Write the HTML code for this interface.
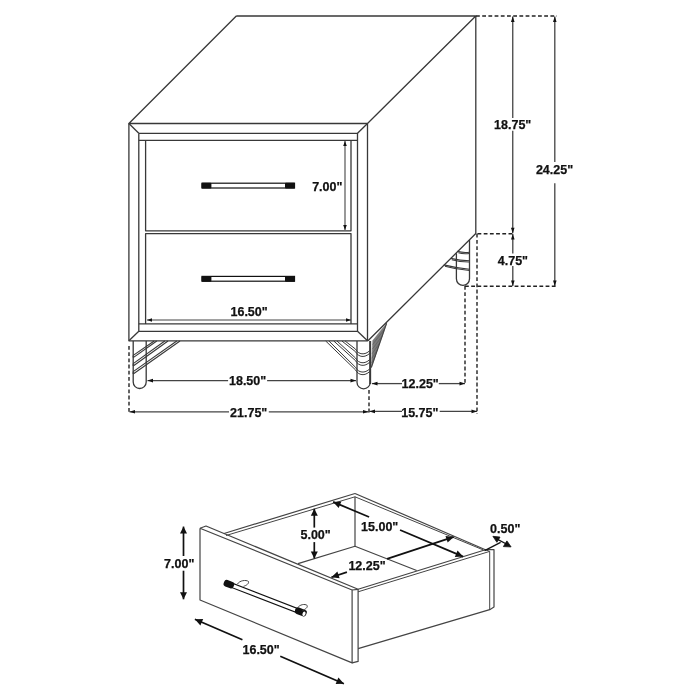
<!DOCTYPE html>
<html><head><meta charset="utf-8">
<style>
html,body{margin:0;padding:0;background:#fff;}
svg{display:block;will-change:transform;}
text{font-family:"Liberation Sans",sans-serif;font-weight:bold;fill:#111;stroke:#111;stroke-width:0.25px;}
</style></head>
<body>
<svg width="700" height="700" viewBox="0 0 700 700">
<path d="M236.30,16.00 L475.80,16.00 L367.50,123.50 L128.90,123.50 L236.30,16.00" fill="none" stroke="#383838" stroke-width="1.3" stroke-linejoin="round" />
<path d="M128.90,123.50 L128.90,340.80 L367.50,340.80 L367.50,123.50" fill="none" stroke="#383838" stroke-width="1.3" stroke-linejoin="round" />
<path d="M138.80,133.30 L357.50,133.30 L357.50,331.30 L138.80,331.30 L138.80,133.30" fill="none" stroke="#383838" stroke-width="1.3" stroke-linejoin="round" />
<path d="M128.90,123.50 L138.80,133.30" fill="none" stroke="#383838" stroke-width="1.3" stroke-linejoin="round" />
<path d="M367.50,123.50 L357.50,133.30" fill="none" stroke="#383838" stroke-width="1.3" stroke-linejoin="round" />
<path d="M128.90,340.80 L138.80,331.30" fill="none" stroke="#383838" stroke-width="1.3" stroke-linejoin="round" />
<path d="M367.50,340.80 L357.50,331.30" fill="none" stroke="#383838" stroke-width="1.3" stroke-linejoin="round" />
<path d="M138.80,140.40 L357.50,140.40" fill="none" stroke="#383838" stroke-width="1.3" stroke-linejoin="round" />
<path d="M138.80,323.90 L357.50,323.90" fill="none" stroke="#383838" stroke-width="1.3" stroke-linejoin="round" />
<path d="M145.60,140.40 L145.60,230.80 L351.00,230.80 L351.00,140.40" fill="none" stroke="#383838" stroke-width="1.3" stroke-linejoin="round" />
<path d="M145.60,323.90 L145.60,233.60 L351.00,233.60 L351.00,323.90" fill="none" stroke="#383838" stroke-width="1.3" stroke-linejoin="round" />
<path d="M475.80,16.00 L475.80,233.50 L368.00,340.80" fill="none" stroke="#383838" stroke-width="1.3" stroke-linejoin="round" />
<rect x="202" y="183.20" width="92.5" height="4.8" fill="#fff" stroke="#111" stroke-width="1.2"/>
<rect x="201.6" y="182.70" width="9.8" height="5.8" fill="#111" rx="1"/>
<rect x="285" y="182.70" width="10" height="5.8" fill="#111" rx="1"/>
<rect x="202" y="276.40" width="92.5" height="4.8" fill="#fff" stroke="#111" stroke-width="1.2"/>
<rect x="201.6" y="275.90" width="9.8" height="5.8" fill="#111" rx="1"/>
<rect x="285" y="275.90" width="10" height="5.8" fill="#111" rx="1"/>
<path d="M469.5,239.9 L469.5,278.8 A6.55,6.55 0 0 1 456.4,278.8 L456.4,253.3" fill="none" stroke="#383838" stroke-width="1.3" />
<path d="M457.3,251.4 Q463.4,253.0 469.5,252.2" fill="none" stroke="#383838" stroke-width="1.1" />
<path d="M458.4,252.8 Q463.4,254.4 469.5,253.5" fill="none" stroke="#383838" stroke-width="1.1" />
<path d="M450.7,258.4 Q460.1,260.7 469.5,260.7" fill="none" stroke="#383838" stroke-width="1.1" />
<path d="M451.8,259.8 Q460.1,262.1 469.5,262.0" fill="none" stroke="#383838" stroke-width="1.1" />
<path d="M443.8,264.9 Q456.6,268.2 469.5,269.2" fill="none" stroke="#383838" stroke-width="1.1" />
<path d="M444.9,266.3 Q456.6,269.6 469.5,270.5" fill="none" stroke="#383838" stroke-width="1.1" />
<path d="M133.2,341 L133.2,382 A6.5,6.5 0 0 0 146.2,382 L146.2,341" fill="none" stroke="#383838" stroke-width="1.3" />
<path d="M133.20,355.40 L154.20,341.00" fill="none" stroke="#383838" stroke-width="1.1" stroke-linejoin="round" />
<path d="M133.20,357.60 L156.80,341.00" fill="none" stroke="#383838" stroke-width="1.1" stroke-linejoin="round" />
<path d="M133.20,355.40 L133.20,357.60" fill="none" stroke="#383838" stroke-width="1.1" stroke-linejoin="round" />
<path d="M133.20,363.60 L164.80,341.00" fill="none" stroke="#383838" stroke-width="1.1" stroke-linejoin="round" />
<path d="M133.20,366.00 L168.00,341.00" fill="none" stroke="#383838" stroke-width="1.1" stroke-linejoin="round" />
<path d="M133.20,363.60 L133.20,366.00" fill="none" stroke="#383838" stroke-width="1.1" stroke-linejoin="round" />
<path d="M133.20,371.60 L176.80,341.00" fill="none" stroke="#383838" stroke-width="1.1" stroke-linejoin="round" />
<path d="M133.20,374.00 L180.00,341.00" fill="none" stroke="#383838" stroke-width="1.1" stroke-linejoin="round" />
<path d="M133.20,371.60 L133.20,374.00" fill="none" stroke="#383838" stroke-width="1.1" stroke-linejoin="round" />
<path d="M357,341 L357,382.2 A6.6,6.6 0 0 0 370.2,382.2 L370.2,341" fill="none" stroke="#383838" stroke-width="1.3" />
<path d="M370.2,341 L370.2,384" fill="none" stroke="#383838" stroke-width="1.9" />
<path d="M341.9,341 L355.5,351.7 C358.5,357.5 365.0,358.0 369.8,353.2" fill="none" stroke="#383838" stroke-width="1.0" />
<path d="M345.1,341 L355.5,349.1 C358.5,354.9 365.0,355.4 369.8,350.6" fill="none" stroke="#383838" stroke-width="1.0" />
<path d="M333.8,341 L355.5,360.6 C358.5,366.4 365.0,366.9 369.8,362.1" fill="none" stroke="#383838" stroke-width="1.0" />
<path d="M337.0,341 L355.5,358.0 C358.5,363.8 365.0,364.3 369.8,359.5" fill="none" stroke="#383838" stroke-width="1.0" />
<path d="M325.7,341 L355.5,369.9 C358.5,375.7 365.0,376.2 369.8,371.4" fill="none" stroke="#383838" stroke-width="1.0" />
<path d="M328.9,341 L355.5,367.3 C358.5,373.1 365.0,373.6 369.8,368.8" fill="none" stroke="#383838" stroke-width="1.0" />
<path d="M372.8,340.5 L386.6,323.3 L371.3,367.5 Z" fill="#7a7a7a" stroke="#777" stroke-width="0.5" />
<path d="M372.57,344.55 L384.53,329.27" fill="none" stroke="#555" stroke-width="0.6" stroke-linejoin="round" />
<path d="M372.32,349.14 L382.19,336.03" fill="none" stroke="#555" stroke-width="0.6" stroke-linejoin="round" />
<path d="M372.06,353.73 L379.85,342.79" fill="none" stroke="#555" stroke-width="0.6" stroke-linejoin="round" />
<path d="M371.81,358.32 L377.51,349.55" fill="none" stroke="#555" stroke-width="0.6" stroke-linejoin="round" />
<path d="M371.56,362.91 L375.17,356.32" fill="none" stroke="#555" stroke-width="0.6" stroke-linejoin="round" />
<path d="M386.60,323.30 L371.30,367.50" fill="none" stroke="#444" stroke-width="1.1" stroke-linejoin="round" />
<path d="M345.00,141.00 L345.00,230.00" fill="none" stroke="#444" stroke-width="1.1" stroke-linejoin="round" />
<path d="M345.00,141.00 L346.80,146.00 L343.20,146.00 Z" fill="#111" stroke="none"/>
<path d="M345.00,230.00 L343.20,225.00 L346.80,225.00 Z" fill="#111" stroke="none"/>
<text x="327.3" y="190.7" text-anchor="middle" style="font-size:12.5px;letter-spacing:0px">7.00&quot;</text>
<path d="M147.00,320.00 L351.00,320.00" fill="none" stroke="#444" stroke-width="1.1" stroke-linejoin="round" />
<path d="M147.00,320.00 L152.00,318.20 L152.00,321.80 Z" fill="#111" stroke="none"/>
<path d="M351.00,320.00 L346.00,321.80 L346.00,318.20 Z" fill="#111" stroke="none"/>
<text x="249.1" y="315.8" text-anchor="middle" style="font-size:12.5px;letter-spacing:0px">16.50&quot;</text>
<path d="M147.50,380.60 L228.10,380.60" fill="none" stroke="#444" stroke-width="1.3" stroke-linejoin="round" />
<path d="M267.10,380.60 L356.00,380.60" fill="none" stroke="#444" stroke-width="1.3" stroke-linejoin="round" />
<path d="M147.50,380.60 L153.00,378.80 L153.00,382.40 Z" fill="#111" stroke="none"/>
<path d="M356.00,380.60 L350.50,382.40 L350.50,378.80 Z" fill="#111" stroke="none"/>
<text x="247.6" y="385.2" text-anchor="middle" style="font-size:12.5px;letter-spacing:0px">18.50&quot;</text>
<path d="M129.50,411.80 L229.00,411.80" fill="none" stroke="#444" stroke-width="1.3" stroke-linejoin="round" />
<path d="M268.80,411.80 L368.50,411.80" fill="none" stroke="#444" stroke-width="1.3" stroke-linejoin="round" />
<path d="M129.50,411.80 L135.00,410.00 L135.00,413.60 Z" fill="#111" stroke="none"/>
<path d="M368.50,411.80 L363.00,413.60 L363.00,410.00 Z" fill="#111" stroke="none"/>
<text x="248.7" y="416.8" text-anchor="middle" style="font-size:12.5px;letter-spacing:0px">21.75&quot;</text>
<path d="M372.00,383.60 L402.00,383.60" fill="none" stroke="#444" stroke-width="1.3" stroke-linejoin="round" />
<path d="M438.80,383.60 L465.00,383.60" fill="none" stroke="#444" stroke-width="1.3" stroke-linejoin="round" />
<path d="M372.00,383.60 L377.50,381.80 L377.50,385.40 Z" fill="#111" stroke="none"/>
<path d="M465.00,383.60 L459.50,385.40 L459.50,381.80 Z" fill="#111" stroke="none"/>
<text x="420.2" y="388.1" text-anchor="middle" style="font-size:12.5px;letter-spacing:0px">12.25&quot;</text>
<path d="M369.50,411.40 L402.00,411.40" fill="none" stroke="#444" stroke-width="1.3" stroke-linejoin="round" />
<path d="M439.70,411.40 L477.00,411.40" fill="none" stroke="#444" stroke-width="1.3" stroke-linejoin="round" />
<path d="M369.50,411.40 L375.00,409.60 L375.00,413.20 Z" fill="#111" stroke="none"/>
<path d="M477.00,411.40 L471.50,413.20 L471.50,409.60 Z" fill="#111" stroke="none"/>
<text x="419.8" y="416.7" text-anchor="middle" style="font-size:12.5px;letter-spacing:0px">15.75&quot;</text>
<path d="M512.75,16.50 L512.75,117.90" fill="none" stroke="#444" stroke-width="1.3" stroke-linejoin="round" />
<path d="M512.75,130.70 L512.75,233.30" fill="none" stroke="#444" stroke-width="1.3" stroke-linejoin="round" />
<path d="M512.75,16.50 L514.55,22.00 L510.95,22.00 Z" fill="#111" stroke="none"/>
<path d="M512.75,233.30 L510.95,227.80 L514.55,227.80 Z" fill="#111" stroke="none"/>
<text x="512.7" y="129.2" text-anchor="middle" style="font-size:12.5px;letter-spacing:0px">18.75&quot;</text>
<path d="M554.80,16.50 L554.80,162.10" fill="none" stroke="#444" stroke-width="1.3" stroke-linejoin="round" />
<path d="M554.80,183.20 L554.80,286.00" fill="none" stroke="#444" stroke-width="1.3" stroke-linejoin="round" />
<path d="M554.80,16.50 L556.60,22.00 L553.00,22.00 Z" fill="#111" stroke="none"/>
<path d="M554.80,286.00 L553.00,280.50 L556.60,280.50 Z" fill="#111" stroke="none"/>
<text x="554.5" y="174.1" text-anchor="middle" style="font-size:12.5px;letter-spacing:0px">24.25&quot;</text>
<path d="M512.80,234.00 L512.80,253.60" fill="none" stroke="#444" stroke-width="1.3" stroke-linejoin="round" />
<path d="M512.80,266.10 L512.80,286.10" fill="none" stroke="#444" stroke-width="1.3" stroke-linejoin="round" />
<path d="M512.80,234.00 L514.60,239.50 L511.00,239.50 Z" fill="#111" stroke="none"/>
<path d="M512.80,286.10 L511.00,280.60 L514.60,280.60 Z" fill="#111" stroke="none"/>
<text x="512.9" y="264.7" text-anchor="middle" style="font-size:12.5px;letter-spacing:0px">4.75&quot;</text>
<path d="M476,16 L557,16" fill="none" stroke="#222" stroke-width="1.4" stroke-dasharray="3.8,2.4"/>
<path d="M477.5,233.8 L513,233.8" fill="none" stroke="#222" stroke-width="1.4" stroke-dasharray="3.8,2.4"/>
<path d="M465,286.3 L557,286.3" fill="none" stroke="#222" stroke-width="1.4" stroke-dasharray="3.8,2.4"/>
<path d="M465,286 L465,384" fill="none" stroke="#222" stroke-width="1.4" stroke-dasharray="3.8,2.4"/>
<path d="M477,233.8 L477,414" fill="none" stroke="#222" stroke-width="1.4" stroke-dasharray="3.8,2.4"/>
<path d="M129,346 L129,414" fill="none" stroke="#222" stroke-width="1.4" stroke-dasharray="3.8,2.4"/>
<path d="M369,390 L369,414" fill="none" stroke="#222" stroke-width="1.4" stroke-dasharray="3.8,2.4"/>
<path d="M200.00,528.20 L200.00,600.00 L352.10,662.90 L352.10,590.00 L200.00,528.20" fill="none" stroke="#444" stroke-width="1.2" stroke-linejoin="round" />
<path d="M200.00,528.20 L206.00,526.00 L358.10,589.30 L352.10,590.00" fill="none" stroke="#444" stroke-width="1.2" stroke-linejoin="round" />
<path d="M352.10,662.90 L358.10,661.40 L358.10,589.30" fill="none" stroke="#444" stroke-width="1.2" stroke-linejoin="round" />
<path d="M358.10,589.30 L485.40,549.70 L494.00,549.70 L494.00,607.10 L489.70,609.70 L358.10,648.60" fill="none" stroke="#444" stroke-width="1.2" stroke-linejoin="round" />
<path d="M358.10,591.80 L489.70,551.40 L489.70,609.70" fill="none" stroke="#444" stroke-width="1.0" stroke-linejoin="round" />
<path d="M485.40,549.70 L489.70,551.40" fill="none" stroke="#444" stroke-width="1.0" stroke-linejoin="round" />
<path d="M355.00,493.50 L485.40,549.70" fill="none" stroke="#444" stroke-width="1.2" stroke-linejoin="round" />
<path d="M355.00,496.80 L483.00,549.80" fill="none" stroke="#444" stroke-width="1.0" stroke-linejoin="round" />
<path d="M224.00,533.50 L355.00,493.50" fill="none" stroke="#444" stroke-width="1.2" stroke-linejoin="round" />
<path d="M226.00,535.50 L355.00,496.80" fill="none" stroke="#444" stroke-width="1.0" stroke-linejoin="round" />
<path d="M355.00,496.80 L355.00,546.30" fill="none" stroke="#444" stroke-width="1.2" stroke-linejoin="round" />
<path d="M298.00,563.60 L355.00,546.30 L416.70,570.50" fill="none" stroke="#444" stroke-width="1.2" stroke-linejoin="round" />
<g transform="translate(224,582.3) rotate(21.1)"><rect x="9" y="-2.1" width="68" height="4.2" fill="#fff" stroke="#111" stroke-width="1.1"/><rect x="0" y="-3.4" width="10.5" height="6.8" rx="2.6" fill="#111"/><rect x="76.5" y="-3.4" width="11.8" height="6.8" rx="2.6" fill="#111"/><ellipse cx="86" cy="0.6" rx="1.5" ry="2.3" fill="#fff"/></g>
<path d="M237.5,584 C239.5,580.5 246,579.5 248.5,581.5 C249.2,583.5 246.5,585.5 243.5,586.3" fill="none" stroke="#444" stroke-width="1.0" />
<path d="M297.5,608 C299.5,604.5 305,603.5 307.2,605.5 C307.8,607.5 305.5,609.3 302.5,610.3" fill="none" stroke="#444" stroke-width="1.0" />
<path d="M183.50,526.60 L183.50,556.00" fill="none" stroke="#111" stroke-width="1.7" stroke-linejoin="round" />
<path d="M183.50,570.70 L183.50,599.30" fill="none" stroke="#111" stroke-width="1.7" stroke-linejoin="round" />
<path d="M183.50,526.60 L187.00,533.60 L180.00,533.60 Z" fill="#111" stroke="none"/>
<path d="M183.50,599.30 L180.00,592.30 L187.00,592.30 Z" fill="#111" stroke="none"/>
<text x="179.2" y="568.3" text-anchor="middle" style="font-size:12.5px;letter-spacing:0px">7.00&quot;</text>
<path d="M314.30,508.70 L314.30,527.60" fill="none" stroke="#111" stroke-width="1.7" stroke-linejoin="round" />
<path d="M314.30,542.10 L314.30,558.40" fill="none" stroke="#111" stroke-width="1.7" stroke-linejoin="round" />
<path d="M314.30,508.70 L317.80,515.70 L310.80,515.70 Z" fill="#111" stroke="none"/>
<path d="M314.30,558.40 L310.80,551.40 L317.80,551.40 Z" fill="#111" stroke="none"/>
<text x="315.6" y="538.7" text-anchor="middle" style="font-size:12.5px;letter-spacing:0px">5.00&quot;</text>
<path d="M333.10,501.90 L369.11,517.05" fill="none" stroke="#111" stroke-width="1.7" stroke-linejoin="round" />
<path d="M400.05,530.07 L463.10,556.60" fill="none" stroke="#111" stroke-width="1.7" stroke-linejoin="round" />
<path d="M333.10,501.90 L341.37,501.58 L338.66,508.03 Z" fill="#111" stroke="none"/>
<path d="M463.10,556.60 L454.83,556.92 L457.54,550.47 Z" fill="#111" stroke="none"/>
<text x="379.7" y="530.8" text-anchor="middle" style="font-size:12.5px;letter-spacing:0px">15.00&quot;</text>
<path d="M331.40,577.30 L346.93,572.17" fill="none" stroke="#111" stroke-width="1.7" stroke-linejoin="round" />
<path d="M387.05,558.92 L453.70,536.90" fill="none" stroke="#111" stroke-width="1.7" stroke-linejoin="round" />
<path d="M331.40,577.30 L337.42,571.62 L339.62,578.27 Z" fill="#111" stroke="none"/>
<path d="M453.70,536.90 L447.68,542.58 L445.48,535.93 Z" fill="#111" stroke="none"/>
<text x="367" y="570.4" text-anchor="middle" style="font-size:12.5px;letter-spacing:0px">12.25&quot;</text>
<path d="M194.90,619.20 L242.43,639.78" fill="none" stroke="#111" stroke-width="1.7" stroke-linejoin="round" />
<path d="M280.28,656.16 L343.90,683.70" fill="none" stroke="#111" stroke-width="1.7" stroke-linejoin="round" />
<path d="M194.90,619.20 L203.17,618.97 L200.39,625.39 Z" fill="#111" stroke="none"/>
<path d="M343.90,683.70 L335.63,683.93 L338.41,677.51 Z" fill="#111" stroke="none"/>
<text x="261.1" y="653.5" text-anchor="middle" style="font-size:12.5px;letter-spacing:0px">16.50&quot;</text>
<path d="M492.9,536.3 L500,537.1 L496.9,542.3 Z" fill="#111" stroke="#111" stroke-width="0.8"/>
<path d="M506.9,540.9 L503.4,546.6 L511.1,546.9 Z" fill="#111" stroke="#111" stroke-width="0.8"/>
<path d="M497.10,539.10 L506.90,544.30" fill="none" stroke="#111" stroke-width="1.3" stroke-linejoin="round" />
<path d="M484.60,550.60 L500.60,542.30" fill="none" stroke="#111" stroke-width="1.3" stroke-linejoin="round" />
<text x="505.2" y="532.6" text-anchor="middle" style="font-size:12.5px;letter-spacing:0px">0.50&quot;</text>
</svg>
</body></html>
